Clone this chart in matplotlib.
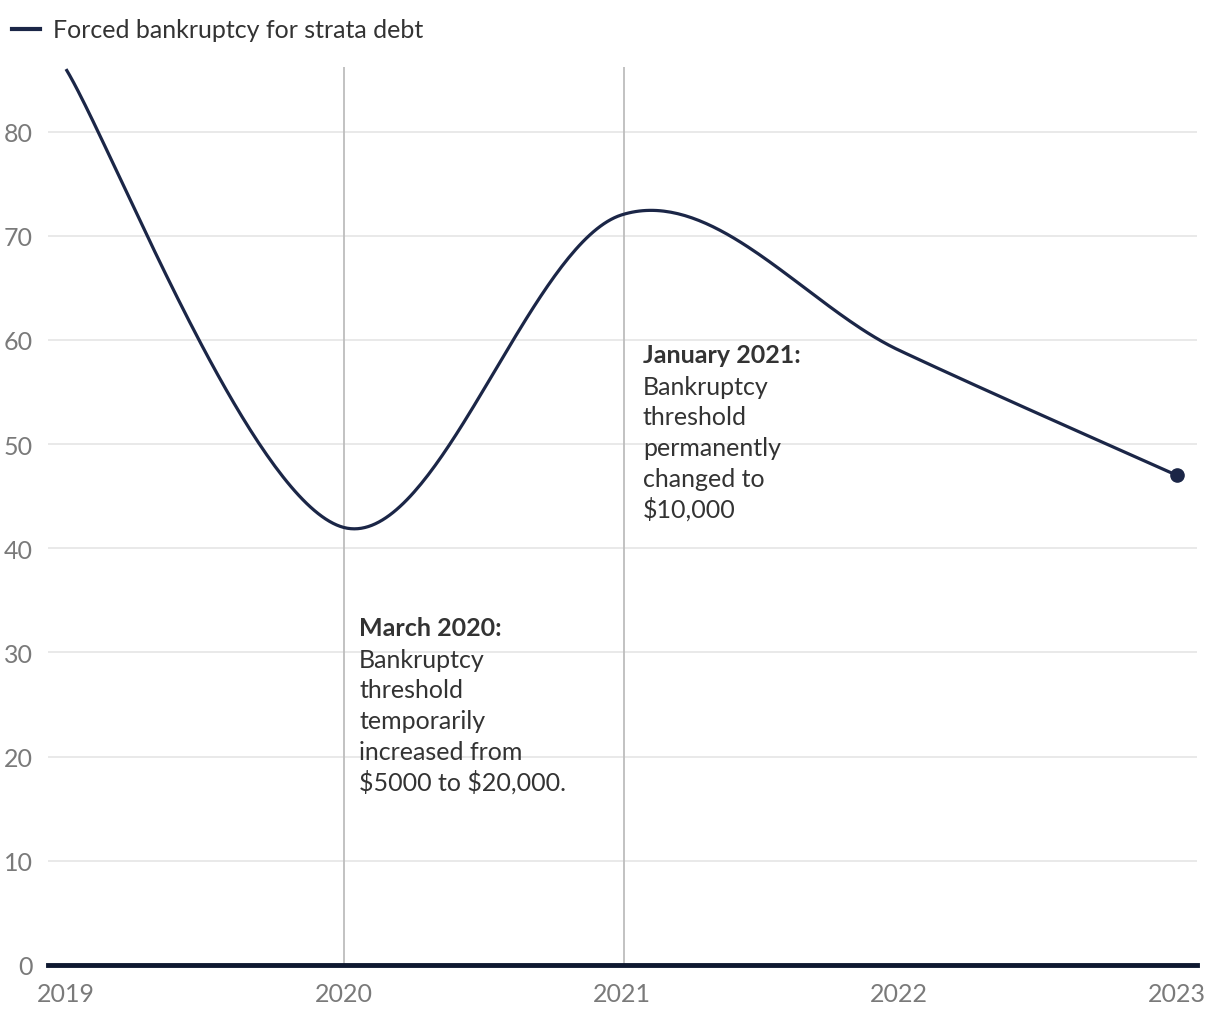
import matplotlib.pyplot as plt
import numpy as np
from matplotlib.lines import Line2D

plt.rcParams["font.family"] = ["Lato", "DejaVu Sans"]

# data
years = [2019, 2020, 2021, 2022, 2023]
bankruptcies = [86, 42, 72, 59, 47]
y_ticks = [0, 10, 20, 30, 40, 50, 60, 70, 80]
events = [2020.0, 2021.01]

march_head = "March 2020:"
march_body = ["Bankruptcy", "threshold", "temporarily", "increased from",
              "\\$5000 to \\$20,000."]
jan_head = "January 2021:"
jan_body = ["Bankruptcy", "threshold", "permanently", "changed to", "\\$10,000"]

NAVY = "#1b2647"
AXIS = "#0e1830"
TICK = "#7a7a7a"
TEXT = "#333333"


def cardinal_curve(x, y, n=80):
    """Cardinal spline (tension 0) with duplicated end points, as d3 draws it."""
    p = np.column_stack([x, y]).astype(float)
    ext = np.vstack([p[0], p, p[-1]])
    out = []
    t = np.linspace(0, 1, n)[:, None]
    for i in range(len(p) - 1):
        p0, p1, p2, p3 = ext[i], ext[i + 1], ext[i + 2], ext[i + 3]
        c1 = p1 + (p2 - p0) / 6
        c2 = p2 - (p3 - p1) / 6
        seg = ((1 - t) ** 3 * p1 + 3 * (1 - t) ** 2 * t * c1
               + 3 * (1 - t) * t ** 2 * c2 + t ** 3 * p2)
        out.append(seg if i == 0 else seg[1:])
    out = np.vstack(out)
    return out[:, 0], out[:, 1]


fig = plt.figure(figsize=(12.2, 10.2), dpi=100)
ax = fig.add_axes([48 / 1220, 1 - 966 / 1020, (1197 - 48) / 1220, (966 - 68) / 1020])

xs, ys = cardinal_curve(years, bankruptcies)
ax.plot(xs, ys, color=NAVY, lw=2.3, solid_capstyle="butt", zorder=4)
ax.plot(years[-1], bankruptcies[-1], "o", color=NAVY, ms=9.5, zorder=5)

for ev in events:
    ax.axvline(ev, color="#bdbdbd", lw=1.3, zorder=2)

ax.set_xlim(2019 - 18 / 277.75, 2023 + 20 / 277.75)
ax.set_ylim(0, 86.2)
ax.set_yticks(y_ticks)
ax.set_xticks(years)
ax.grid(axis="y", color="#e3e3e3", lw=1.1, zorder=1)
ax.set_axisbelow(True)
for s in ["top", "right", "left"]:
    ax.spines[s].set_visible(False)
ax.spines["bottom"].set_color(AXIS)
ax.spines["bottom"].set_linewidth(3.5)
ax.spines["bottom"].set_zorder(6)
ax.tick_params(axis="y", length=0, pad=11, labelsize=18, labelcolor=TICK)
ax.tick_params(axis="x", length=0, pad=12, labelsize=18, labelcolor=TICK)


def note(x, y, head, body):
    # head line in bold, body lines stacked below it (offsets in pixels)
    ax.annotate(head, (x, y), fontsize=18, fontweight="bold", color=TEXT,
                va="baseline", ha="left")
    for k, line in enumerate(body):
        ax.annotate(line, (x, y), xytext=(0, -32 - 30.6 * k),
                    textcoords="offset pixels", fontsize=18, color=TEXT,
                    va="baseline", ha="left")


note(2020.055, 31.7, march_head, march_body)
note(2021.077, 57.9, jan_head, jan_body)

# legend
fig.add_artist(Line2D([12 / 1220, 40 / 1220], [1 - 30 / 1020, 1 - 30 / 1020],
                      color=NAVY, lw=3, transform=fig.transFigure))
fig.text(53 / 1220, 1 - 30 / 1020, "Forced bankruptcy for strata debt",
         fontsize=18, color=TEXT, va="center", ha="left")

fig.savefig("out.png", dpi=100)
